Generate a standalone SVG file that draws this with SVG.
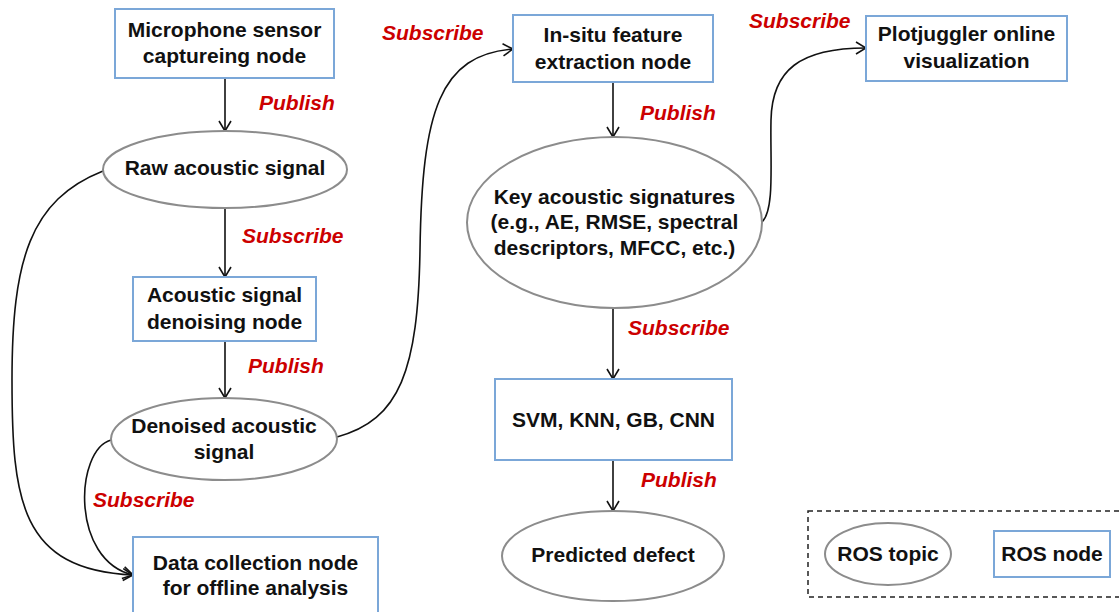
<svg xmlns="http://www.w3.org/2000/svg" width="1119" height="612" viewBox="0 0 1119 612">
<style>
.box{fill:#fff;stroke:#7ba7d8;stroke-width:2}
.topic{fill:#fff;stroke:#8c8c8c;stroke-width:2}
.t{font-family:"Liberation Sans",Arial,sans-serif;font-weight:bold;font-size:21px;fill:#111;text-anchor:middle}
.lbl{font-family:"Liberation Sans",Arial,sans-serif;font-weight:bold;font-style:italic;font-size:21px;fill:#cc0000}
.c{fill:none;stroke:#111;stroke-width:1.6;marker-end:url(#arr)}
</style>
<defs>
<marker id="arr" markerUnits="userSpaceOnUse" viewBox="0 0 12 14" refX="11" refY="7" markerWidth="12" markerHeight="14" orient="auto">
<path d="M1,1 L11,7 L1,13" fill="none" stroke="#111" stroke-width="1.6"/>
</marker>
</defs>
<rect width="1119" height="612" fill="#fff"/>

<g id="connectors">
<path class="c" d="M225,78 L225,131"/>
<path class="c" d="M225,208 L225,277"/>
<path class="c" d="M225,341 L225,398"/>
<path class="c" d="M103,171 C30,200 12,260 12,380 C12,500 20,570 133,575"/>
<path class="c" d="M111,440 C75,450 70,560 133,575"/>
<path class="c" d="M337,437 C400,420 418,370 420,250 C422,110 440,55 513,49"/>
<path class="c" d="M613,82 L613,137"/>
<path class="c" d="M762,222 C775,210 770,160 771,120 C772,70 800,48 866,48"/>
<path class="c" d="M613,308 L613,379"/>
<path class="c" d="M613,460 L613,511"/>
</g>

<g id="labels">
<text class="lbl" x="259" y="110">Publish</text>
<text class="lbl" x="242" y="243">Subscribe</text>
<text class="lbl" x="248" y="373">Publish</text>
<text class="lbl" x="93" y="507">Subscribe</text>
<text class="lbl" x="382" y="40">Subscribe</text>
<text class="lbl" x="640" y="120">Publish</text>
<text class="lbl" x="749" y="28">Subscribe</text>
<text class="lbl" x="628" y="335">Subscribe</text>
<text class="lbl" x="641" y="487">Publish</text>
</g>

<g id="microphone">
<rect class="box" x="115" y="9" width="219" height="69"/>
<text class="t" x="224.5" y="37">Microphone sensor</text>
<text class="t" x="224.5" y="63">captureing node</text>
</g>
<g id="raw">
<ellipse class="topic" cx="225" cy="169.5" rx="122" ry="38.5"/>
<text class="t" x="225" y="175">Raw acoustic signal</text>
</g>
<g id="denoising">
<rect class="box" x="133" y="277" width="183" height="64"/>
<text class="t" x="224.5" y="302">Acoustic signal</text>
<text class="t" x="224.5" y="329">denoising node</text>
</g>
<g id="denoised">
<ellipse class="topic" cx="224" cy="439" rx="113" ry="41"/>
<text class="t" x="224" y="433">Denoised acoustic</text>
<text class="t" x="224" y="459">signal</text>
</g>
<g id="datacollection">
<rect class="box" x="133" y="537" width="245" height="82"/>
<text class="t" x="255.5" y="570">Data collection node</text>
<text class="t" x="255.5" y="595">for offline analysis</text>
</g>
<g id="insitu">
<rect class="box" x="513" y="15" width="200" height="67"/>
<text class="t" x="613" y="42">In-situ feature</text>
<text class="t" x="613" y="69">extraction node</text>
</g>
<g id="signatures">
<ellipse class="topic" cx="614.5" cy="222.5" rx="147.5" ry="85.5"/>
<text class="t" x="614.5" y="204">Key acoustic signatures</text>
<text class="t" x="614.5" y="229">(e.g., AE, RMSE, spectral</text>
<text class="t" x="614.5" y="255">descriptors, MFCC, etc.)</text>
</g>
<g id="plotjuggler">
<rect class="box" x="866" y="16" width="201" height="65"/>
<text class="t" x="966.5" y="41">Plotjuggler online</text>
<text class="t" x="966.5" y="68">visualization</text>
</g>
<g id="classifier">
<rect class="box" x="495" y="379" width="237" height="81"/>
<text class="t" x="613.5" y="427">SVM, KNN, GB, CNN</text>
</g>
<g id="predicted">
<ellipse class="topic" cx="613" cy="556" rx="111" ry="45"/>
<text class="t" x="613" y="562">Predicted defect</text>
</g>
<g id="legend">
<rect x="808" y="511" width="320" height="86" fill="none" stroke="#222" stroke-width="1.5" stroke-dasharray="5,4"/>
<ellipse class="topic" cx="888" cy="554" rx="63" ry="31"/>
<text class="t" x="888" y="561">ROS topic</text>
<rect class="box" x="994" y="531" width="116" height="46"/>
<text class="t" x="1052" y="561">ROS node</text>
</g>
</svg>
